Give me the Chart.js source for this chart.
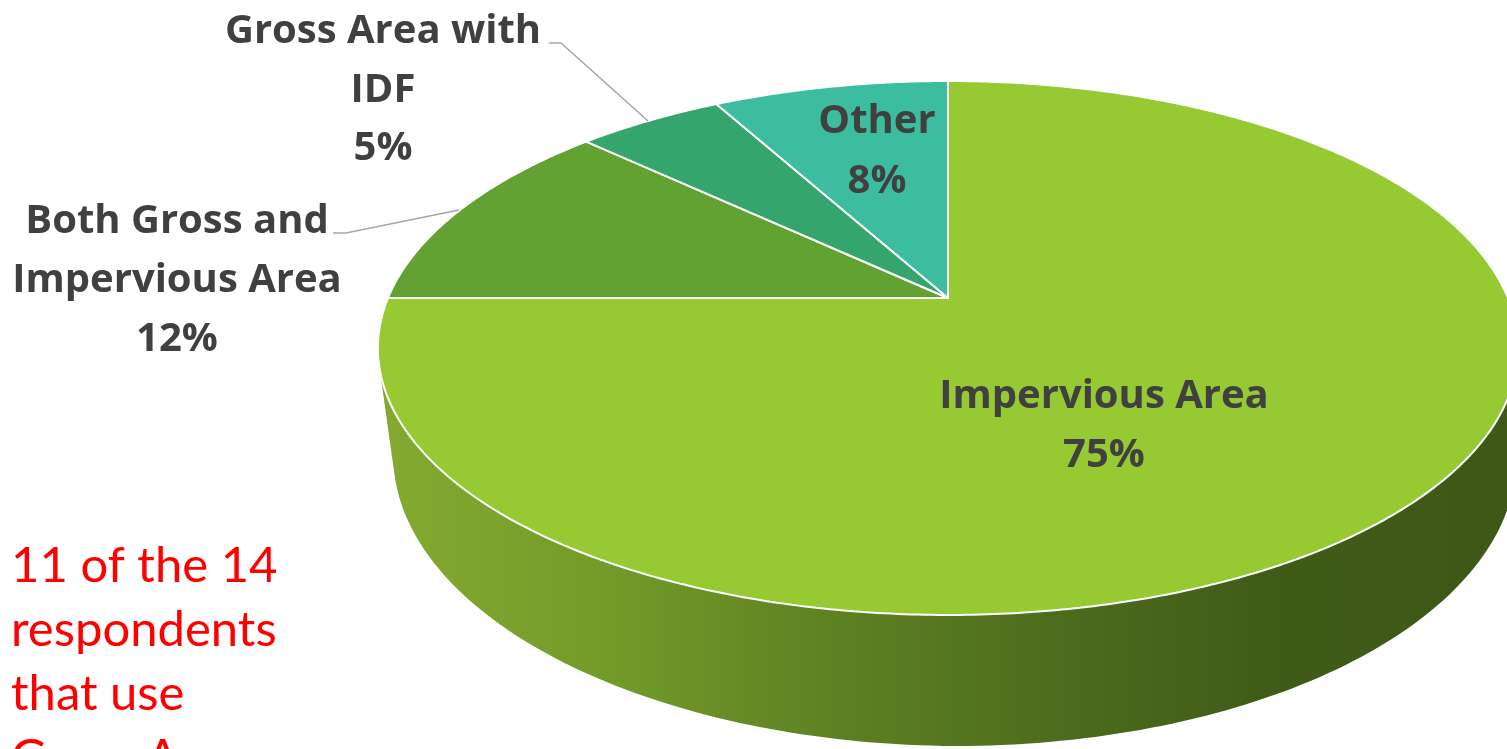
<!DOCTYPE html>
<html lang="en">
<head>
<meta charset="UTF-8">
<title>Area basis</title>
<script src="https://cdn.jsdelivr.net/npm/chart.js@4.4.0/dist/chart.umd.min.js"></script>
<style>
  html, body { margin: 0; padding: 0; background: #fff; overflow: hidden; }
</style>
</head>
<body>
<canvas id="chart" width="1507" height="749"></canvas>
<script>
// data
const categories = ['Impervious Area', 'Both Gross and Impervious Area', 'Gross Area with IDF', 'Other'];
const shares = [75, 12, 5, 8];
const sliceColors = ['#97c933', '#62a232', '#34a56c', '#3dbd9f'];
const labelWrap = [['Impervious Area'], ['Both Gross and', 'Impervious Area'], ['Gross Area with', 'IDF'], ['Other']];
const noteLines = ['11 of the 14', 'respondents', 'that use', 'Gross Area'];

// perspective view of the pie top (centre, radii, foreshortening, thickness)
const view = { cx: 948, cy: 298, rx: 560, ry: 257.6, k: 0.1873, depth: 106.5, vx: 1400, shrink: 0.985 };
// label anchors: centre x, first baseline, line step
const labelPos = [
  { x: 1104, y: 408, step: 59 },
  { x: 177, y: 233, step: 59 },
  { x: 383, y: 43, step: 58.5 },
  { x: 877, y: 133, step: 60 }
];
const leaders = [null,
  [[333, 233], [346, 233], [459, 210]],
  [[549, 43], [561, 43], [648, 121]],
  null];

function project(a, drop) {
  const u = Math.cos(a), v = Math.sin(a);
  const den = 1 - view.k * v;
  const p = { x: view.cx + view.rx * u / den, y: view.cy + view.ry * v / den };
  if (drop) {
    p.y += view.depth * (1 + 0.03 * Math.min(u, 0)) / den;
    p.x = view.vx + (p.x - view.vx) * view.shrink;
  }
  return p;
}

function hull(pts) {
  pts = pts.slice().sort((a, b) => a.x - b.x || a.y - b.y);
  const cross = (o, a, b) => (a.x - o.x) * (b.y - o.y) - (a.y - o.y) * (b.x - o.x);
  const lower = [], upper = [];
  pts.forEach(p => {
    while (lower.length >= 2 && cross(lower[lower.length - 2], lower[lower.length - 1], p) <= 0) lower.pop();
    lower.push(p);
  });
  for (let i = pts.length - 1; i >= 0; i--) {
    const p = pts[i];
    while (upper.length >= 2 && cross(upper[upper.length - 2], upper[upper.length - 1], p) <= 0) upper.pop();
    upper.push(p);
  }
  upper.pop(); lower.pop();
  return lower.concat(upper);
}

const pie3d = {
  id: 'pie3d',
  beforeDatasetsDraw(chart) {
    const ctx = chart.ctx;
    const arcs = chart.getDatasetMeta(0).data;
    ctx.save();

    // side wall: hull of top rim and bottom rim
    const pts = [];
    for (let i = 0; i < 360; i++) {
      const a = i * Math.PI / 180;
      pts.push(project(a, false), project(a, true));
    }
    const h = hull(pts);
    const g = ctx.createLinearGradient(380, 0, 1510, 0);
    g.addColorStop(0, '#84aa30');
    g.addColorStop(0.2, '#739b29');
    g.addColorStop(0.4, '#5e8123');
    g.addColorStop(0.6, '#4d6c1d');
    g.addColorStop(0.8, '#405a18');
    g.addColorStop(1, '#3f5818');
    ctx.beginPath();
    h.forEach((p, i) => i ? ctx.lineTo(p.x, p.y) : ctx.moveTo(p.x, p.y));
    ctx.closePath();
    ctx.fillStyle = g;
    ctx.fill();

    // top face slices
    arcs.forEach(arc => {
      const s = arc.startAngle, e = arc.endAngle;
      const n = Math.max(4, Math.ceil((e - s) / 0.01));
      ctx.beginPath();
      ctx.moveTo(view.cx, view.cy);
      for (let i = 0; i <= n; i++) {
        const p = project(s + (e - s) * i / n, false);
        ctx.lineTo(p.x, p.y);
      }
      ctx.closePath();
      ctx.fillStyle = arc.options.backgroundColor;
      ctx.fill();
      ctx.lineWidth = 2;
      ctx.lineJoin = 'round';
      ctx.strokeStyle = '#ffffff';
      ctx.stroke();
    });
    ctx.restore();
    return false;
  },
  afterDraw(chart) {
    const ctx = chart.ctx;
    ctx.save();
    // leader lines
    ctx.strokeStyle = '#a6a6a6';
    ctx.lineWidth = 1.5;
    leaders.forEach(l => {
      if (!l) return;
      ctx.beginPath();
      l.forEach((p, i) => i ? ctx.lineTo(p[0], p[1]) : ctx.moveTo(p[0], p[1]));
      ctx.stroke();
    });
    // data labels
    ctx.fillStyle = '#404040';
    ctx.font = 'bold 40px "Open Sans"';
    ctx.textAlign = 'center';
    ctx.textBaseline = 'alphabetic';
    labelWrap.forEach((lines, i) => {
      const pos = labelPos[i];
      const all = lines.concat([shares[i] + '%']);
      all.forEach((t, j) => ctx.fillText(t, pos.x, pos.y + j * pos.step));
    });
    // red note
    ctx.fillStyle = '#ff0000';
    ctx.font = '49px Lato';
    ctx.textAlign = 'left';
    noteLines.forEach((t, j) => ctx.fillText(t, 11, 582 + j * 64));
    ctx.restore();
  }
};

new Chart(document.getElementById('chart'), {
  type: 'pie',
  data: {
    labels: categories,
    datasets: [{ data: shares, backgroundColor: sliceColors, borderWidth: 0 }]
  },
  options: {
    responsive: false,
    animation: false,
    devicePixelRatio: 1,
    plugins: { legend: { display: false }, tooltip: { enabled: false } }
  },
  plugins: [pie3d]
});
</script>
</body>
</html>
